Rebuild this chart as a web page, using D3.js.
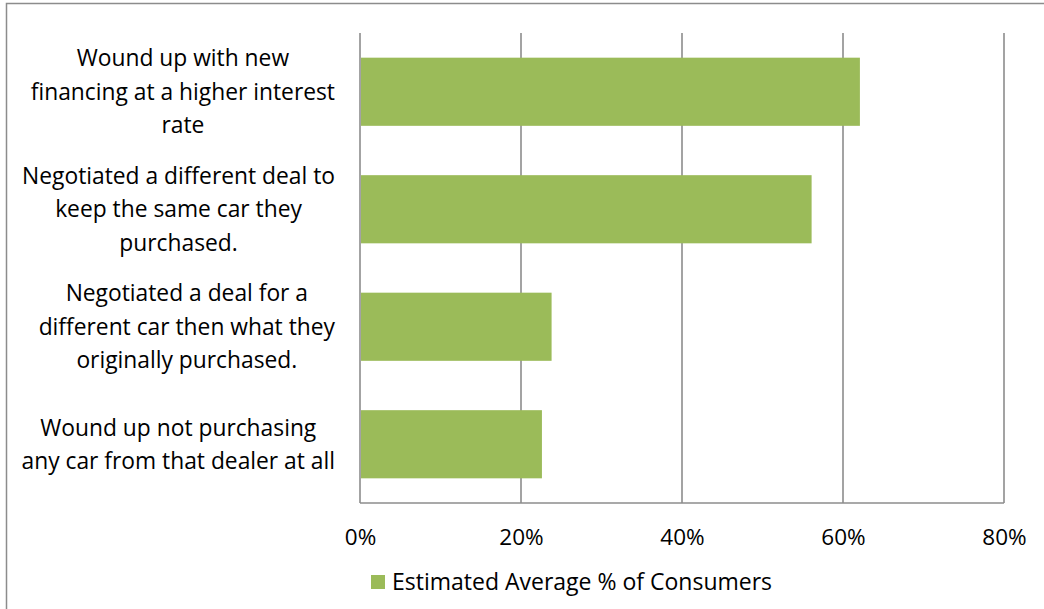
<!DOCTYPE html>
<html>
<head>
<meta charset="utf-8">
<script src="https://cdn.jsdelivr.net/npm/d3@7"></script>
<style>
  html, body { margin: 0; padding: 0; background: #fff; }
  svg { display: block; }
  text { font-family: "Open Sans", Lato, sans-serif; fill: #000; }
</style>
</head>
<body>
<svg id="chart" width="1044" height="609"></svg>
<script>
const categories = [
  ["Wound up with new", "financing at a higher interest", "rate"],
  ["Negotiated a different deal to", "keep the same car they", "purchased."],
  ["Negotiated a deal for a", "different car then what they", "originally purchased."],
  ["Wound up not purchasing", "any car from that dealer at all"]
];
const values = [0.621, 0.561, 0.238, 0.226];
const xTicks = [0, 0.2, 0.4, 0.6, 0.8];
const seriesName = "Estimated Average % of Consumers";
const barColor = "#9bbb59";
const gridColor = "#8c8c8c";

const svg = d3.select("#chart");
const W = 1044, H = 609;
const plot = { left: 360, right: 1004, top: 33, bottom: 503 };

// outer chart frame (extends past the visible area)
svg.append("rect")
  .attr("x", 6.5).attr("y", 3.5)
  .attr("width", W + 20).attr("height", H + 20)
  .attr("fill", "none").attr("stroke", gridColor).attr("stroke-width", 1.5);

const x = d3.scaleLinear().domain([0, 0.8]).range([plot.left, plot.right]);
const y = d3.scaleBand().domain(d3.range(categories.length))
  .range([plot.top, plot.bottom]).paddingInner(0.42).paddingOuter(0.21);

// gridlines
svg.append("g").selectAll("line").data(xTicks).join("line")
  .attr("x1", d => x(d)).attr("x2", d => x(d))
  .attr("y1", plot.top).attr("y2", plot.bottom)
  .attr("stroke", gridColor).attr("stroke-width", 1.6);

// bottom axis line
svg.append("line")
  .attr("x1", plot.left).attr("x2", plot.right)
  .attr("y1", plot.bottom).attr("y2", plot.bottom)
  .attr("stroke", gridColor).attr("stroke-width", 1.6);

// bars
svg.append("g").selectAll("rect").data(values).join("rect")
  .attr("x", x(0) + 1)
  .attr("y", (d, i) => y(i))
  .attr("width", d => x(d) - x(0) - 1)
  .attr("height", y.bandwidth())
  .attr("fill", barColor);

// x-axis tick labels via d3 axis
const xAxis = d3.axisBottom(x).tickValues(xTicks).tickFormat(d3.format(".0%")).tickSize(0).tickPadding(0);
const gx = svg.append("g").attr("transform", `translate(0, 545)`).call(xAxis);
gx.select(".domain").remove();
gx.selectAll("text").attr("dy", null).attr("y", 0)
  .style("font-size", "22.5px").style("font-family", '"Open Sans", Lato, sans-serif').attr("fill", "#000");

// category labels (wrapped, centered within block right-aligned to x=335)
const lineH = 33.5;
const labelRight = 335;
categories.forEach((lines, i) => {
  const g = svg.append("g");
  const cy = y(i) + y.bandwidth() / 2;
  const n = lines.length;
  const texts = lines.map((s, k) => g.append("text")
    .attr("y", cy + (k - (n - 1) / 2) * lineH + 8)
    .attr("text-anchor", "middle")
    .style("font-size", "22.8px")
    .text(s));
  const maxW = d3.max(texts, t => t.node().getComputedTextLength());
  texts.forEach(t => t.attr("x", labelRight - maxW / 2));
});

// legend
svg.append("rect").attr("x", 371).attr("y", 575).attr("width", 14).attr("height", 14).attr("fill", barColor);
svg.append("text").attr("x", 392).attr("y", 590).style("font-size", "23px").text(seriesName);
</script>
</body>
</html>
